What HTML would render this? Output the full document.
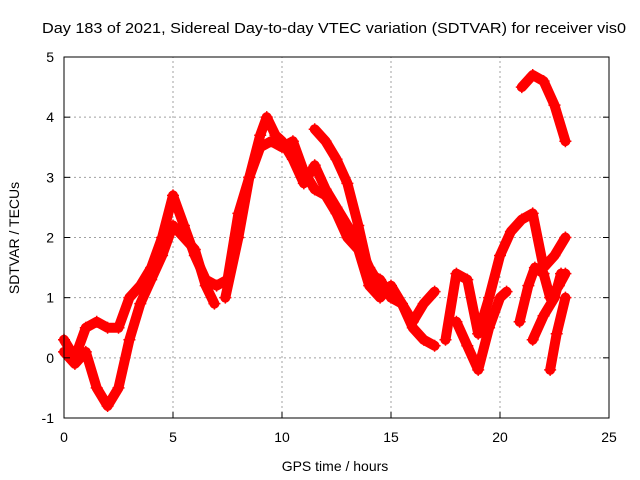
<!DOCTYPE html>
<html><head><meta charset="utf-8"><style>
body{margin:0;background:#fff}
svg{display:block;font-family:"Liberation Sans",sans-serif}
</style></head><body>
<svg id="chart" width="640" height="480">
<text x="42" y="33" font-size="15" textLength="584" lengthAdjust="spacingAndGlyphs">Day 183 of 2021, Sidereal Day-to-day VTEC variation (SDTVAR) for receiver vis0</text>
<g id="grid"></g><g id="marks"></g><g id="axes"></g>
<text x="335" y="471" text-anchor="middle" font-size="14">GPS time / hours</text>
<text transform="translate(19,238) rotate(-90)" text-anchor="middle" font-size="14">SDTVAR / TECUs</text>
</svg>
<script>
const xTicks=[0,5,10,15,20,25];
const yTicks=[-1,0,1,2,3,4,5];
const trackA_t=[0,0.5,1,1.5,2,2.5,3,3.5,4,4.5,5,5.5,6,6.5,7,7.5,8,8.5,9,9.5,10,10.5,11,11.5,12,12.5,13,13.5,14,14.5,15,15.5,16,16.5,17];
const trackA_v=[0.3,0,0.5,0.6,0.5,0.5,1.0,1.2,1.5,2.0,2.7,2.2,1.7,1.3,1.2,1.3,2.4,3.0,3.5,3.6,3.5,3.6,3.1,2.8,2.7,2.4,2.0,1.8,1.2,1.0,1.2,0.9,0.5,0.3,0.2];
const trackB_t=[0,0.5,1,1.5,2,2.5,3,3.5,4,4.5,5,5.5,6,6.5,6.9];
const trackB_v=[0.1,-0.1,0.1,-0.5,-0.8,-0.5,0.3,0.9,1.3,1.7,2.2,2.0,1.8,1.2,0.9];
const trackC_t=[7.4,8,8.5,9,9.3,9.7,10,10.5,11,11.5,12,12.5,13,13.5,14,14.5];
const trackC_v=[1.0,2.0,3.0,3.7,4.0,3.7,3.6,3.3,2.9,3.2,2.8,2.5,2.2,1.9,1.5,1.2];
const trackD_t=[11.5,12,12.5,13,13.5,14,14.5,15,15.5,16,16.5,17];
const trackD_v=[3.8,3.6,3.3,2.9,2.2,1.4,1.3,1.0,0.9,0.6,0.9,1.1];
const trackE_t=[17.5,18,18.5,19,19.5,20,20.5,21,21.5,22,22.5,23];
const trackE_v=[0.3,1.4,1.3,0.4,1.0,1.7,2.1,2.3,2.4,1.5,1.7,2.0];
const trackF_t=[18,18.5,19,19.5,20,20.3];
const trackF_v=[0.6,0.2,-0.2,0.5,1.0,1.1];
const trackG_t=[20.9,21.3,21.6,22,22.3,22.7,23];
const trackG_v=[0.6,1.2,1.5,1.4,1.0,1.2,1.4];
const trackH_t=[21.5,22,22.5,22.8];
const trackH_v=[0.3,0.7,1.0,1.4];
const trackI_t=[22.3,22.6,23];
const trackI_v=[-0.2,0.4,1.0];
const trackJ_t=[21,21.5,22,22.5,23];
const trackJ_v=[4.5,4.7,4.6,4.2,3.6];
const tracks=[[trackA_t,trackA_v],[trackB_t,trackB_v],[trackC_t,trackC_v],[trackD_t,trackD_v],[trackE_t,trackE_v],[trackF_t,trackF_v],[trackG_t,trackG_v],[trackH_t,trackH_v],[trackI_t,trackI_v],[trackJ_t,trackJ_v]];
const X0=64,X1=609,Y0=418,Y1=57;
const xs=t=>X0+t/25*(X1-X0);
const ys=v=>Y0-(v+1)/6*(Y0-Y1);
const NS="http://www.w3.org/2000/svg";
function mk(tag,attrs,parent){const e=document.createElementNS(NS,tag);for(const k in attrs)e.setAttribute(k,attrs[k]);parent.appendChild(e);return e;}
const grid=document.getElementById('grid'),axes=document.getElementById('axes'),marks=document.getElementById('marks');
xTicks.forEach(t=>{
 if(t>0&&t<25){const l=mk('line',{x1:xs(t),x2:xs(t),y1:Y0,y2:Y1,stroke:'#a0a0a0','stroke-dasharray':'2,3'},grid);
 
 }
 const tk=mk('line',{x1:xs(t),x2:xs(t),y1:Y0,y2:Y0-6,stroke:'#000'},axes);
 
 
 const tx=mk('text',{x:xs(t),y:Y0+24,'text-anchor':'middle','font-size':14},axes);tx.textContent=t;
 
 
});
yTicks.forEach(v=>{
 if(v>-1&&v<5){const l=mk('line',{x1:X0,x2:X1,y1:ys(v),y2:ys(v),stroke:'#a0a0a0','stroke-dasharray':'2,3'},grid);
 
 }
 const tk=mk('line',{x1:X0,x2:X0+6,y1:ys(v),y2:ys(v),stroke:'#000'},axes);
 
 
 const tk2=mk('line',{x1:X1,x2:X1-6,y1:ys(v),y2:ys(v),stroke:'#000'},axes);
 
 
 const tx=mk('text',{x:X0-10,y:ys(v)+5,'text-anchor':'end','font-size':14},axes);tx.textContent=v;
 
 
});
const frame=mk('rect',{x:X0,y:Y1,width:X1-X0,height:Y0-Y1,fill:'none',stroke:'#000'},axes);


tracks.forEach(([T,V],i)=>{
 const pts=T.map((t,j)=>xs(t)+','+ys(V[j])).join(' ');
 const pl=mk('polyline',{points:pts,fill:'none',stroke:'#ff0000','stroke-width':10,'stroke-linejoin':'round','stroke-linecap':'round'},marks);
 
 
 T.forEach((t,j)=>{
  const x=xs(t),y=ys(V[j]);
  const p=mk('path',{d:`M${x-6},${y}H${x+6}M${x},${y-6}V${y+6}`,stroke:'#ff0000','stroke-width':1.5},marks);
  
  
 });
});
</script>
</body></html>
